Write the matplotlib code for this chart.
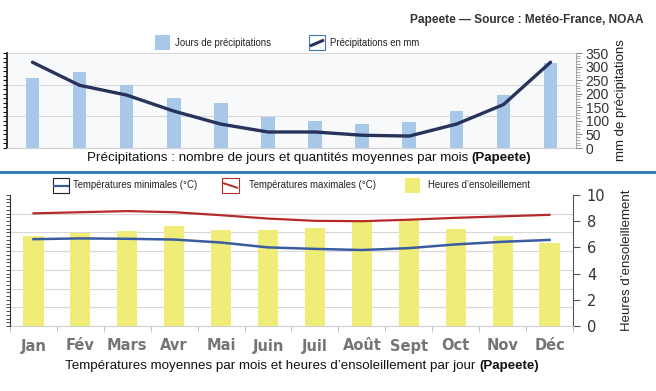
import numpy as np
import matplotlib
matplotlib.use("Agg")
import matplotlib.pyplot as plt
from matplotlib.patches import Rectangle
from matplotlib.lines import Line2D
from matplotlib.ticker import MultipleLocator, FixedLocator, NullFormatter

# --- data ---
months = ["Jan", "Fév", "Mars", "Avr", "Mai", "Juin", "Juil", "Août", "Sept", "Oct", "Nov", "Déc"]
rain_days = [15.5, 16.7, 13.9, 11.0, 9.9, 6.8, 6.0, 5.3, 5.7, 8.2, 11.7, 18.9]
rain_mm = [316, 231, 195, 136, 88, 59, 59, 47, 44, 88, 160, 316]
temp_min = [23.2, 23.4, 23.3, 23.1, 22.3, 21.0, 20.6, 20.3, 20.8, 21.8, 22.5, 23.0]
temp_max = [30.1, 30.4, 30.7, 30.4, 29.6, 28.7, 28.1, 28.0, 28.4, 28.9, 29.3, 29.7]
sun_hours = [6.9, 7.1, 7.25, 7.6, 7.3, 7.3, 7.5, 8.0, 8.1, 7.4, 6.9, 6.35]

SANS = ["Liberation Sans", "DejaVu Sans"]
W, H = 656, 391
x = np.arange(len(months))

fig = plt.figure(figsize=(W / 100, H / 100), dpi=100)


def fx(px):
    return px / W


def fy(py):
    return 1 - py / H


# ---------------- top chart: precipitation ----------------
ax1 = fig.add_axes([fx(7), fy(148), fx(576 - 7), (148 - 53) / H])
ax1r = ax1.twinx()

ax1.set_facecolor("#f8f9fb")
ax1.bar(x, rain_days, width=0.29, color="#a8c8ea", zorder=2)
ax1.set_xlim(-0.54, 11.54)
ax1.set_ylim(0, 21)
ax1.yaxis.tick_left()
ax1.yaxis.set_major_locator(FixedLocator([0, 7, 14, 21]))
ax1.yaxis.set_minor_locator(MultipleLocator(1))
ax1.yaxis.set_major_formatter(NullFormatter())
ax1.tick_params(axis="y", which="both", direction="out", length=3, width=0.8, color="#111")
ax1.set_xticks([])
ax1.grid(axis="y", which="major", color="#d8d8d8", lw=0.8)
ax1.set_axisbelow(True)
for s in ["top", "right"]:
    ax1.spines[s].set_visible(False)
ax1.spines["left"].set_color("#111")
ax1.spines["left"].set_linewidth(1.2)
ax1.spines["bottom"].set_color("#cfcfcf")

ax1r.plot(x, rain_mm, color="#27335a", lw=2.4, solid_capstyle="round")
ax1r.set_ylim(0, 350)
ax1r.yaxis.set_major_locator(MultipleLocator(50))
ax1r.yaxis.set_minor_locator(MultipleLocator(10))
ax1r.tick_params(axis="y", which="major", length=4, width=0.6, color="#666",
                 labelsize=10, labelcolor="#333", pad=3)
ax1r.tick_params(axis="y", which="minor", length=3, width=0.5, color="#888")
for lab in ax1r.get_yticklabels():
    lab.set_family(SANS)
for s in ["top", "left", "bottom"]:
    ax1r.spines[s].set_visible(False)
ax1r.spines["right"].set_color("#999")
ax1r.spines["right"].set_linewidth(0.6)
ax1r.set_ylabel("mm de précipitations", fontsize=9.5, color="#222", labelpad=4, family=SANS)

# ---------------- bottom chart: temperature & sunshine ----------------
ax2 = fig.add_axes([fx(10), fy(326), fx(573 - 10), (326 - 195) / H])
ax2t = ax2.twinx()

ax2.bar(x, sun_hours, width=0.43, color="#f0ec78", zorder=2)
ax2.set_xlim(-0.5, 11.5)
ax2.set_ylim(0, 10)
ax2.yaxis.tick_right()
ax2.yaxis.set_label_position("right")
ax2.yaxis.set_major_locator(MultipleLocator(2))
ax2.yaxis.set_minor_locator(FixedLocator(np.arange(5, 40, 5) * 10 / 35))
ax2.tick_params(axis="y", which="major", direction="out", length=5, width=0.8, color="#555",
                labelsize=10.5, labelcolor="#333", pad=5)
ax2.tick_params(axis="y", which="minor", length=0)
ax2.grid(axis="y", which="minor", color="#d8d8d8", lw=0.8)
ax2.set_axisbelow(True)
ax2.set_xticks(x)
ax2.set_xticklabels(months, fontsize=10.5, fontweight="bold", color="#757575")
ax2.xaxis.set_minor_locator(FixedLocator(np.arange(-0.5, 12, 1)))
ax2.tick_params(axis="x", which="major", length=0, pad=9)
ax2.tick_params(axis="x", which="minor", length=4, width=0.6, color="#bbb")
ax2.set_ylabel("Heures d’ensoleillement", fontsize=9.5, color="#222", labelpad=11, family=SANS)
for s in ["top", "left"]:
    ax2.spines[s].set_visible(False)
ax2.spines["right"].set_color("#555")
ax2.spines["bottom"].set_color("#cfcfcf")

ax2t.plot(x, temp_max, color="#b52a2a", lw=1.6)
ax2t.plot(x, temp_min, color="#3b5ca0", lw=1.8)
ax2t.set_ylim(0, 35)
ax2t.yaxis.tick_left()
ax2t.yaxis.set_major_locator(MultipleLocator(1))
ax2t.yaxis.set_major_formatter(NullFormatter())
ax2t.tick_params(axis="y", direction="out", length=3, width=0.6, color="#333")
for s in ["top", "right", "bottom"]:
    ax2t.spines[s].set_visible(False)
ax2t.spines["left"].set_visible(True)
ax2t.spines["left"].set_color("#333")

# ---------------- legends (drawn by hand) ----------------
def box(x0, y0, w, h, face="none", edge="none", lw=1.0):
    fig.add_artist(Rectangle((fx(x0), fy(y0 + h)), w / W, h / H, transform=fig.transFigure,
                             facecolor=face, edgecolor=edge, lw=lw))


def seg(x0, y0, x1, y1, color, lw):
    fig.add_artist(Line2D([fx(x0), fx(x1)], [fy(y0), fy(y1)], transform=fig.transFigure,
                          color=color, lw=lw, solid_capstyle="butt"))


leg_kw = dict(fontsize=6.9, color="#222", va="center", ha="left", family=SANS)

box(155, 35, 15, 15, face="#a8c8ea")
fig.text(fx(175), fy(43), "Jours de précipitations", **leg_kw)
box(309, 35, 16, 15, face="white", edge="#3a7ab0", lw=0.8)
seg(310, 46, 324, 40, "#27335a", 2.2)
fig.text(fx(330), fy(43), "Précipitations en mm", **leg_kw)

box(53, 178, 16, 15, face="white", edge="#222", lw=0.8)
seg(53, 185.5, 69, 185.5, "#3b5ca0", 1.6)
fig.text(fx(73), fy(185.5), "Températures minimales (°C)", **leg_kw)
box(222, 178, 17, 15, face="white", edge="#b52a2a", lw=0.8)
seg(223, 183, 238, 188, "#b52a2a", 1.4)
fig.text(fx(249), fy(185.5), "Températures maximales (°C)", **leg_kw)
box(405, 178, 15, 15, face="#f0ec78")
fig.text(fx(428), fy(185.5), "Heures d’ensoleillement", **leg_kw)

# ---------------- captions ----------------
fig.text(fx(644), fy(20), "Papeete — Source : Metéo-France, NOAA", fontsize=8.6, fontweight="bold",
         color="#333", ha="right", va="center", family=SANS)

fig.add_artist(Line2D([0, 1], [fy(172), fy(172)], transform=fig.transFigure, color="#2a78b8", lw=2))

renderer = fig.canvas.get_renderer()


def caption(cx, cy, normal, bold, size):
    t1 = fig.text(0, fy(cy), normal, fontsize=size, color="#111", va="center", family=SANS)
    t2 = fig.text(0, fy(cy), bold, fontsize=size, color="#111", va="center",
                  fontweight="bold", family=SANS)
    w1 = t1.get_window_extent(renderer).width
    w2 = t2.get_window_extent(renderer).width
    start = cx - (w1 + w2) / 2
    t1.set_x(fx(start))
    t2.set_x(fx(start + w1))


caption(309, 158, "Précipitations : nombre de jours et quantités moyennes par mois ", "(Papeete)", 9.6)
caption(302, 366, "Températures moyennes par mois et heures d’ensoleillement par jour ", "(Papeete)", 9.6)

fig.savefig("out.png", dpi=100)
